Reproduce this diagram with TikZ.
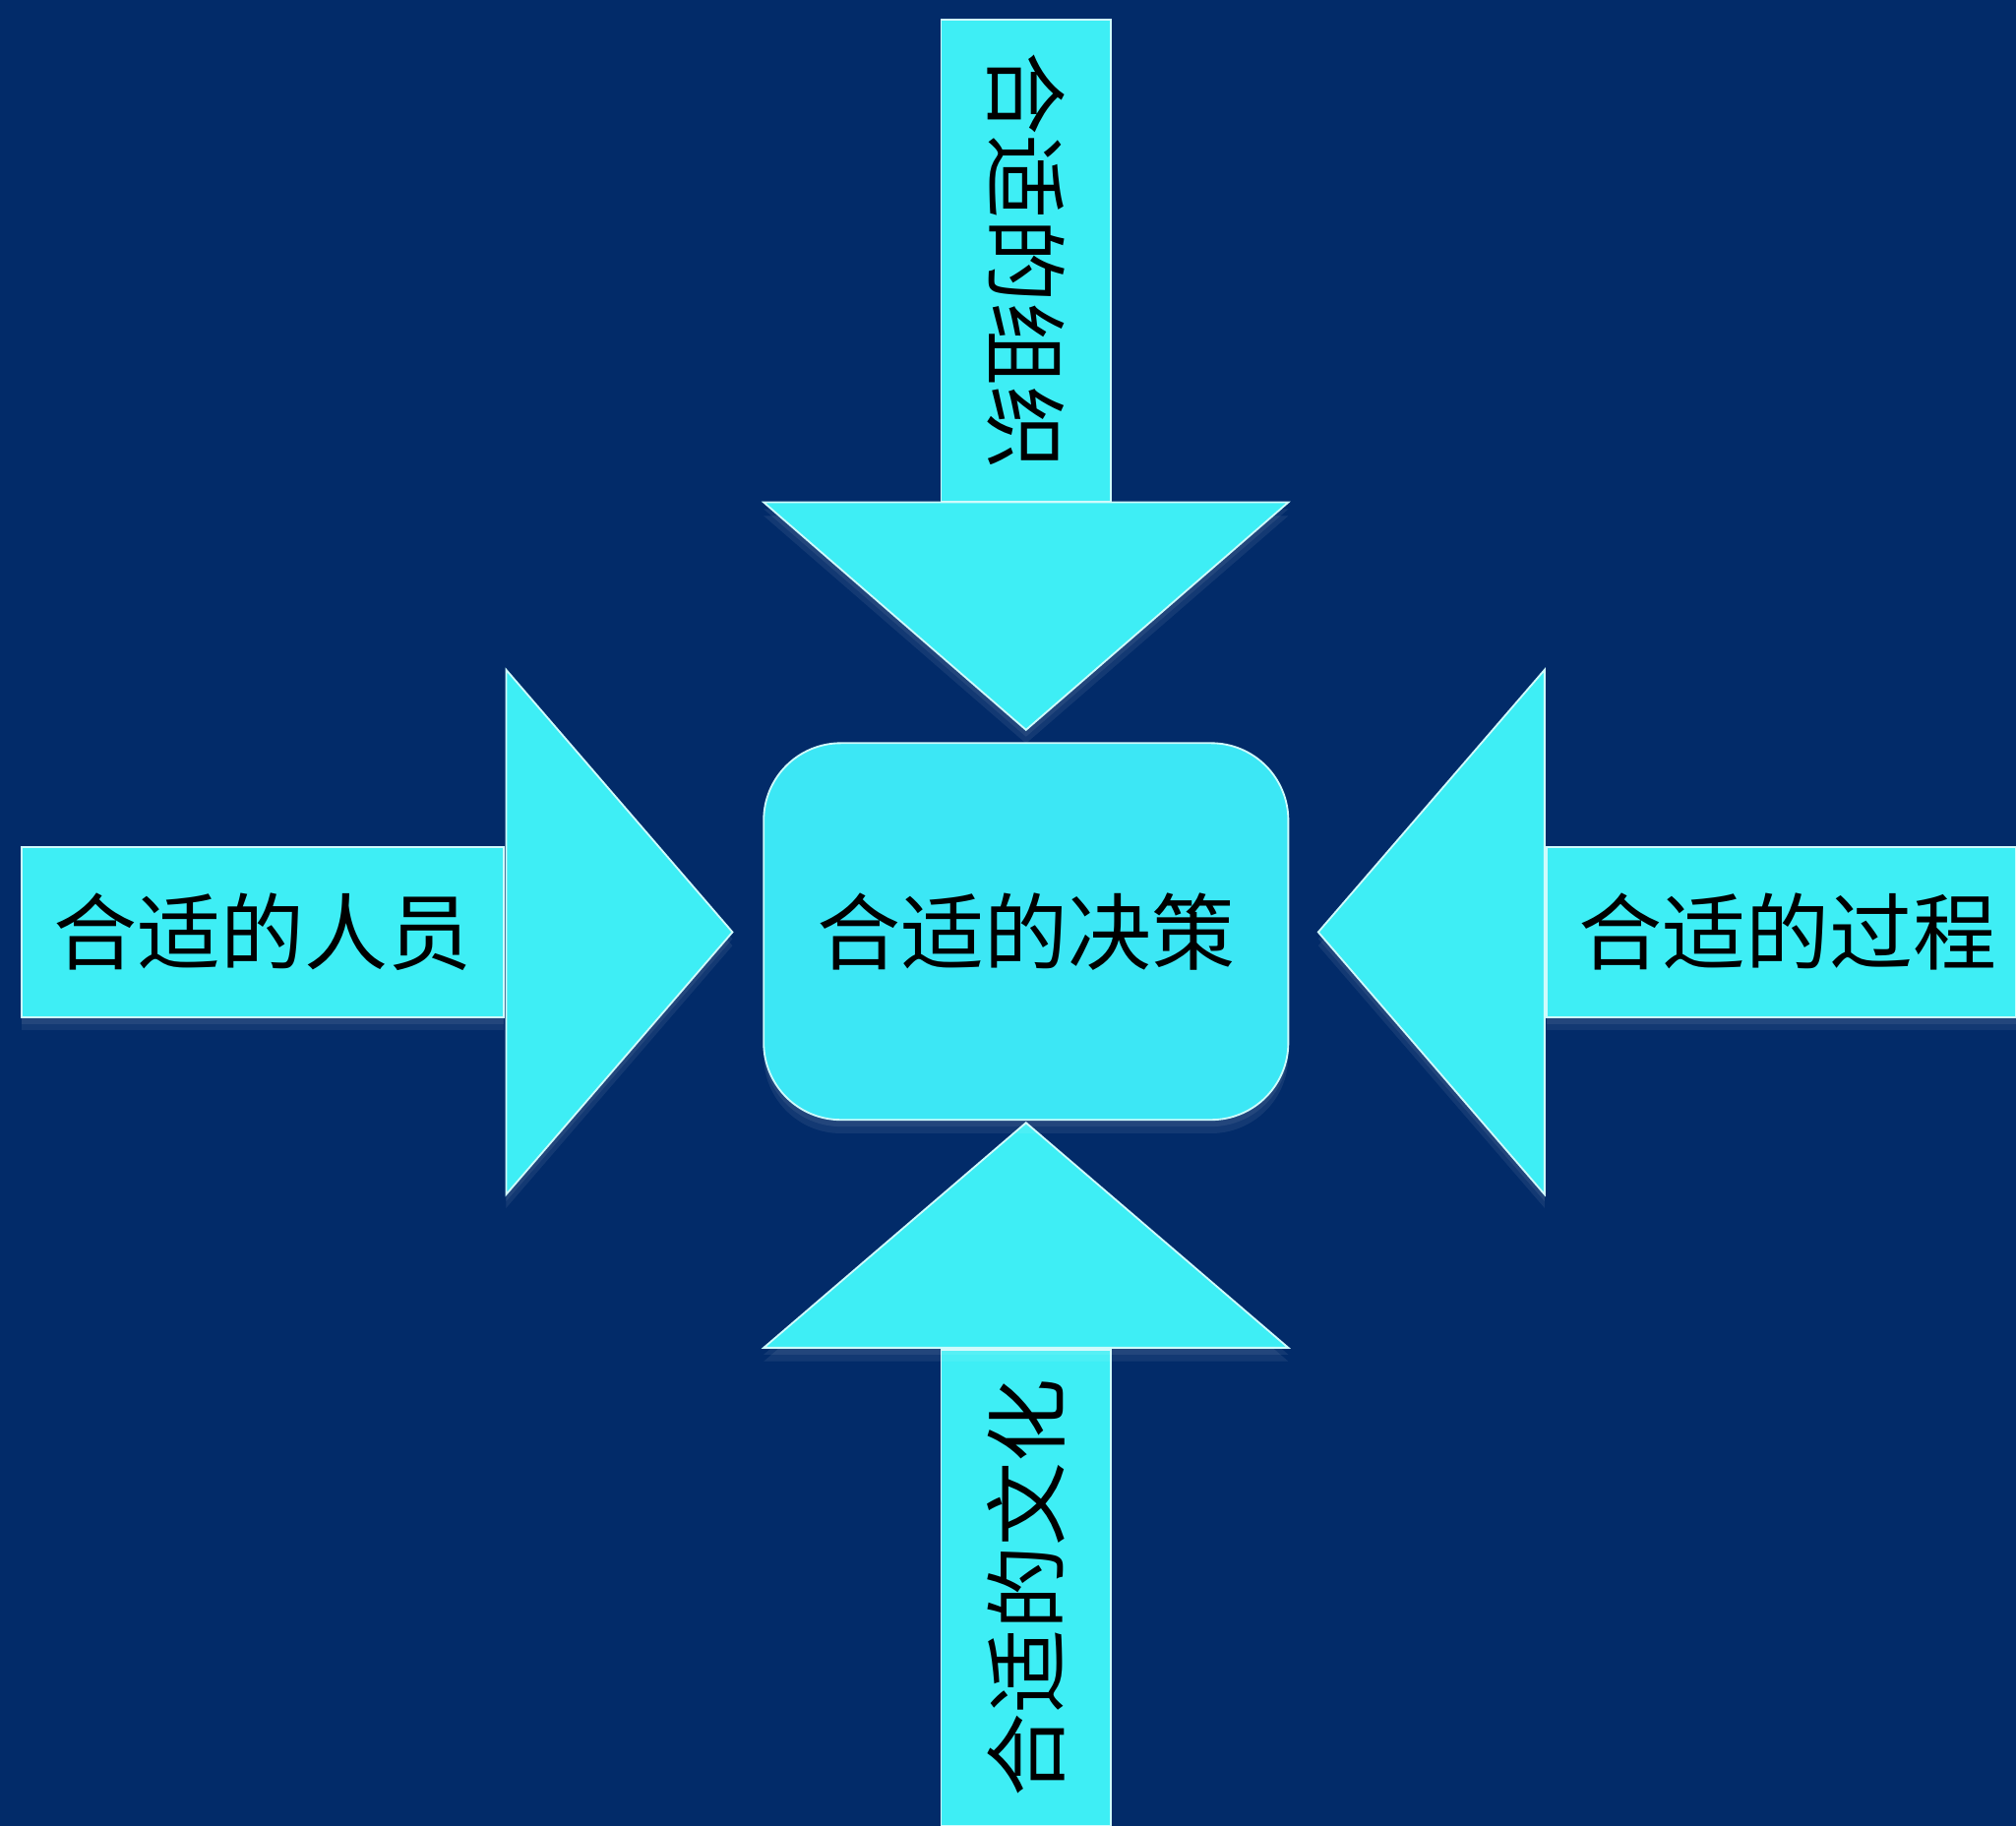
\documentclass[tikz,border=0pt]{standalone}
\usepackage{fontspec}
\newfontfamily\cjk{Noto Sans CJK SC}
\usepackage{tikz}
\usetikzlibrary{calc,positioning,shadows}
\definecolor{navy}{HTML}{022B69}
\definecolor{aqua}{HTML}{3EEEF5}
\definecolor{aquamid}{HTML}{3CE7F5}
\tikzset{
    glow/.style={
    general shadow={fill=white,opacity=0.07,shadow xshift=0pt,shadow yshift=-3pt},
    general shadow={fill=white,opacity=0.07,shadow xshift=0pt,shadow yshift=-1.5pt}
    },
    hbar/.style={
    rectangle,draw=white!75!aqua,line width=0.4pt,fill=aqua,glow,inner sep=0pt,
    minimum width=3.75cm,minimum height=1.32cm,font=\cjk\fontsize{18.5}{20}\selectfont
    },
    vbar/.style={
    hbar,minimum width=1.32cm,minimum height=3.75cm
    },
    head/.style={
    fill=aqua,draw=white!75!aqua,line width=0.4pt,glow
    },
    decision/.style={
    rectangle,rounded corners=0.6cm,draw=white!75!aqua,line width=0.4pt,fill=aquamid,glow,
    minimum width=4.08cm,minimum height=2.93cm,font=\cjk\fontsize{18.5}{20}\selectfont
    },
}
\begin{document}
\begin{tikzpicture}
  \fill[navy] (0,0) rectangle (15.68,-14.20);
  \useasboundingbox (0,0) rectangle (15.68,-14.20);

  \node[vbar] (org) at (7.98,-2.025) {\rotatebox{-90}{合适的组织}};
  \node[hbar] (people) at (2.045,-7.25) {合适的人员};
  \node[hbar,minimum width=3.65cm] (process) at (13.855,-7.25) {\hspace{0.1cm}合适的过程};
  \node[vbar,minimum height=3.70cm] (culture) at (7.98,-12.35) {\rotatebox{90}{合适的文化}};

  % arrow heads
  \path[head] ($(org.south)+(-2.04,0)$) -- ($(org.south)+(2.04,0)$) -- ($(org.south)+(0,-1.77)$) -- cycle;
  \path[head] ($(people.east)+(0.01,2.04)$) -- ($(people.east)+(0.01,-2.04)$) -- ($(people.east)+(1.77,0)$) -- cycle;
  \path[head] ($(process.west)+(-0.01,2.04)$) -- ($(process.west)+(-0.01,-2.04)$) -- ($(process.west)+(-1.77,0)$) -- cycle;
  \path[head] ($(culture.north)+(-2.04,0.01)$) -- ($(culture.north)+(2.04,0.01)$) -- ($(culture.north)+(0,1.76)$) -- cycle;

  \node[decision] (decision) at (7.98,-7.245) {合适的决策};
\end{tikzpicture}
\end{document}
